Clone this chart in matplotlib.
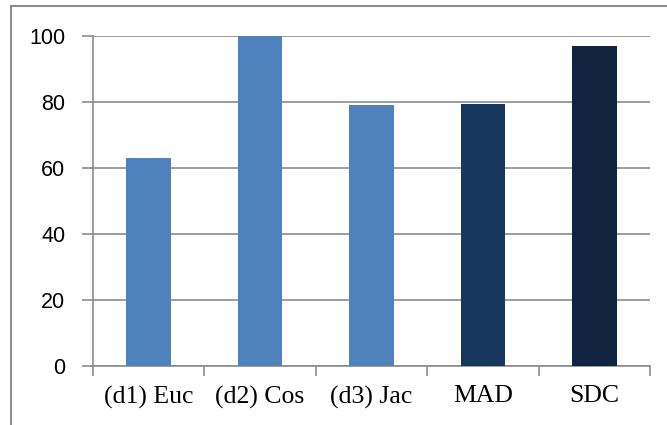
import numpy as np
from matplotlib import pyplot as plt
from matplotlib.patches import Rectangle

# chart data
labels = ["(d1) Euc", "(d2) Cos", "(d3) Jac", "MAD", "SDC"]
values = [63, 100, 79, 79.5, 97]
colors = ["#4F81BD", "#4F81BD", "#4F81BD", "#17375E", "#10243F"]
y_ticks = [0, 20, 40, 60, 80, 100]

W, H = 667, 425
fig = plt.figure(figsize=(W / 100, H / 100), dpi=100)
ax = fig.add_axes([93 / W, (H - 366) / H, (650 - 93) / W, (366 - 36) / H])

x = np.arange(len(labels))
ax.bar(x, values, width=0.4, color=colors, zorder=3)

ax.set_xlim(-0.5, len(labels) - 0.5)
ax.set_ylim(0, 100)
ax.set_yticks(y_ticks)
ax.set_yticklabels([str(v) for v in y_ticks], fontsize=15.5, family="Liberation Sans")
ax.yaxis.grid(True, color="#8c8c8c", linewidth=1.2, zorder=0)

# category ticks between the bars
ax.set_xticks(np.arange(len(labels) + 1) - 0.5, minor=False)
ax.set_xticklabels([])
ax.set_xticks(x, minor=True)
ax.set_xticklabels(labels, minor=True, fontsize=18.5, family="Liberation Serif")
ax.tick_params(axis="x", which="major", length=7, color="#8c8c8c", width=1.2, direction="out")
ax.tick_params(axis="x", which="minor", length=0, pad=14)
ax.tick_params(axis="y", length=8, color="#8c8c8c", width=1.2, pad=12)

for side in ["top", "right"]:
    ax.spines[side].set_visible(False)
for side in ["left", "bottom"]:
    ax.spines[side].set_color("#8c8c8c")
    ax.spines[side].set_linewidth(1.2)

# outer frame of the chart area
fig.patches.append(Rectangle((11 / W, -0.1), 1.2, (H - 6) / H + 0.1,
                             transform=fig.transFigure, fill=False,
                             edgecolor="#8c8c8c", linewidth=1.5))

fig.savefig("out.png", dpi=100)
